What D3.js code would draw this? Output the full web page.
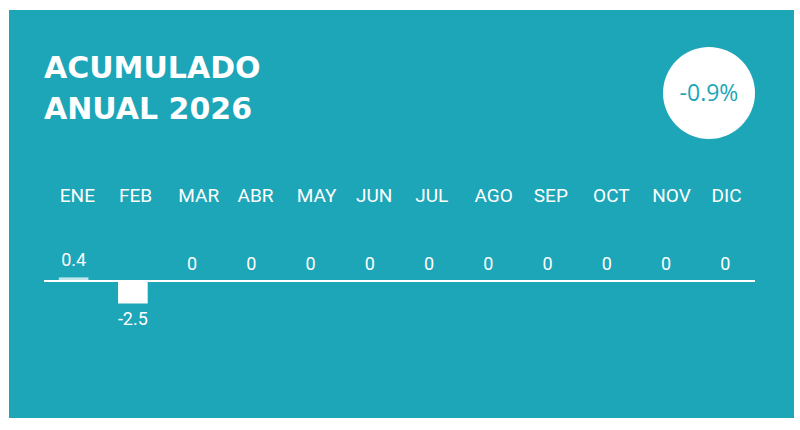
<!DOCTYPE html>
<html>
<head>
<meta charset="utf-8">
<script src="https://cdn.jsdelivr.net/npm/d3@7"></script>
<style>
  html, body { margin: 0; padding: 0; background: #ffffff; }
  svg { display: block; }
</style>
</head>
<body>
<svg id="chart" width="800" height="430"></svg>
<script>
// datos del gráfico
var months = ["ENE", "FEB", "MAR", "ABR", "MAY", "JUN", "JUL", "AGO", "SEP", "OCT", "NOV", "DIC"];
var values = [0.4, -2.5, 0, 0, 0, 0, 0, 0, 0, 0, 0, 0];
var titleLines = ["ACUMULADO", "ANUAL 2026"];
var totalLabel = "-0.9%";

var width = 800, height = 430;
var teal = "#1ca6b8";

var svg = d3.select("#chart");

/* panel de fondo */
svg.append("rect")
    .attr("x", 9).attr("y", 10)
    .attr("width", 785).attr("height", 408)
    .attr("fill", teal);

/* título */
svg.append("g").selectAll("text")
    .data(titleLines)
    .enter()
    .append("text")
    .attr("x", 44)
    .attr("y", function(d, i) { return 78 + i * 41; })
    .attr("fill", "#ffffff")
    .style("font-family", "'DejaVu Sans', sans-serif")
    .style("font-weight", "bold")
    .style("font-size", "30px")
    .text(function(d) { return d; });

/* círculo con el total */
svg.append("circle")
    .attr("cx", 709).attr("cy", 93).attr("r", 46)
    .attr("fill", "#ffffff");

svg.append("text")
    .attr("x", 709).attr("y", 93)
    .attr("dy", "0.35em")
    .attr("text-anchor", "middle")
    .attr("fill", teal)
    .style("font-family", "'Open Sans', sans-serif")
    .style("font-size", "23px")
    .text(totalLabel);

/* escalas */
var x = d3.scaleBand()
    .domain(months)
    .range([44, 755])
    .paddingInner(0.5)
    .paddingOuter(0.25);

var y = d3.scaleLinear()
    .domain([-5, 5])
    .range([326, 236]);

/* etiquetas de los meses (alineadas a la izquierda de cada barra) */
svg.append("g").selectAll("text")
    .data(months)
    .enter()
    .append("text")
    .attr("x", function(d) { return x(d) + 1; })
    .attr("y", 202)
    .attr("fill", "#ffffff")
    .style("font-family", "Roboto, sans-serif")
    .style("font-size", "19px")
    .text(function(d) { return d; });

/* barras */
var data = months.map(function(m, i) { return { month: m, value: values[i] }; });

svg.append("g").selectAll("rect")
    .data(data)
    .enter()
    .append("rect")
    .attr("x", function(d) { return x(d.month); })
    .attr("y", function(d) { return y(Math.max(0, d.value)); })
    .attr("width", x.bandwidth())
    .attr("height", function(d) { return Math.abs(y(d.value) - y(0)); })
    .attr("fill", function(d) { return d.value > 0 ? "#bfe6eb" : "#ffffff"; });

/* línea del cero */
svg.append("line")
    .attr("x1", 44).attr("x2", 755)
    .attr("y1", y(0)).attr("y2", y(0))
    .attr("stroke", "#ffffff")
    .attr("stroke-width", 2);

/* valores */
svg.append("g").selectAll("text")
    .data(data)
    .enter()
    .append("text")
    .attr("x", function(d) { return x(d.month) + x.bandwidth() / 2; })
    .attr("y", function(d) {
        return d.value < 0 ? y(d.value) + 21 : y(d.value) - 11;
    })
    .attr("text-anchor", "middle")
    .attr("fill", "#ffffff")
    .style("font-family", "Roboto, sans-serif")
    .style("font-size", "18px")
    .text(function(d) { return d.value; });
</script>
</body>
</html>
